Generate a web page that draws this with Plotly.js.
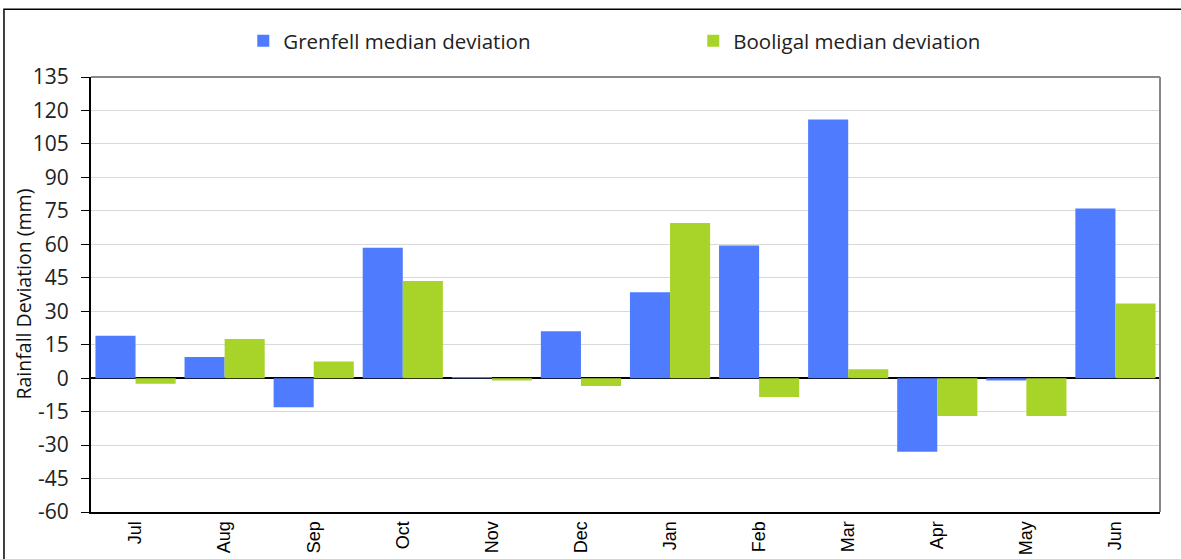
<!DOCTYPE html>
<html><head><meta charset="utf-8">
<script src="https://cdn.plot.ly/plotly-3.0.1.min.js"></script>
<style>html,body{margin:0;padding:0;background:#fff}#c{width:1181px;height:559px}</style>
</head><body><div id="c"></div>
<script>
const months = ["Jul","Aug","Sep","Oct","Nov","Dec","Jan","Feb","Mar","Apr","May","Jun"];
const grenfell = [19, 9.5, -13, 58.5, 0.5, 21, 38.5, 59.5, 116, -33, -1, 76];
const booligal = [-2.5, 17.5, 7.5, 43.5, -1, -3.5, 69.5, -8.5, 4, -17, -17, 33.5];
const yTicks = [-60,-45,-30,-15,0,15,30,45,60,75,90,105,120,135];
const yTitle = 'Rainfall Deviation (mm)';
const fnt = "'Open Sans', 'Noto Sans', sans-serif";
const fntX = "'Liberation Sans', Arial, sans-serif";

const traces = [
  {type:'bar', name:'Grenfell median deviation', x:months, y:grenfell, marker:{color:'#4f7bff'}},
  {type:'bar', name:'Booligal median deviation', x:months, y:booligal, marker:{color:'#a8d42a'}}
];
const layout = {
  width:1181, height:559,
  margin:{l:91, r:21, t:77, b:47},
  paper_bgcolor:'#fff', plot_bgcolor:'#fff',
  barmode:'group', bargap:0.1, bargroupgap:0,
  font:{family:fnt, color:'#222', size:14},
  showlegend:true,
  legend:{orientation:'h', xref:'container', yref:'container', x:0.206, xanchor:'left', y:0.927, yanchor:'middle',
          entrywidth:405, entrywidthmode:'pixels', font:{size:20.5, family:fnt, color:'#222'},
          bgcolor:'rgba(0,0,0,0)', itemwidth:30},
  xaxis:{type:'category', tickangle:-90, showline:true, linecolor:'#000', linewidth:2,
         ticks:'', showgrid:false, tickfont:{size:18, family:fntX, color:'#000'},
         mirror:false, automargin:false},
  yaxis:{range:[-60,135], tickvals:yTicks, ticktext:yTicks.map(String), showline:true,
         linecolor:'#000', linewidth:2, ticks:'outside', ticklen:8, tickcolor:'#000',
         ticklabelstandoff:8,
         gridcolor:'#d9d9d9', gridwidth:1, zeroline:true, zerolinecolor:'#000', zerolinewidth:1.5,
         tickfont:{size:21, family:fnt, color:'#222'}, automargin:false},
  annotations:[
    {text:yTitle, xref:'paper', yref:'paper', x:-0.0636, y:0.5, xanchor:'center', yanchor:'middle',
     textangle:-90, showarrow:false, font:{size:19.5, family:fnt, color:'#111'}}
  ],
  shapes:[
    {type:'line', xref:'paper', yref:'paper', x0:0, x1:1, y0:1, y1:1, line:{color:'#888', width:2}},
    {type:'line', xref:'paper', yref:'paper', x0:1, x1:1, y0:0, y1:1, line:{color:'#888', width:2}},
    {type:'rect', xref:'paper', yref:'paper', x0:-0.0814, x1:1.03, y0:-0.2, y1:1.156, line:{color:'#000', width:1.5}, fillcolor:'rgba(0,0,0,0)', layer:'below'}
  ]
};
Plotly.newPlot('c', traces, layout, {displayModeBar:false, staticPlot:true});
</script></body></html>
